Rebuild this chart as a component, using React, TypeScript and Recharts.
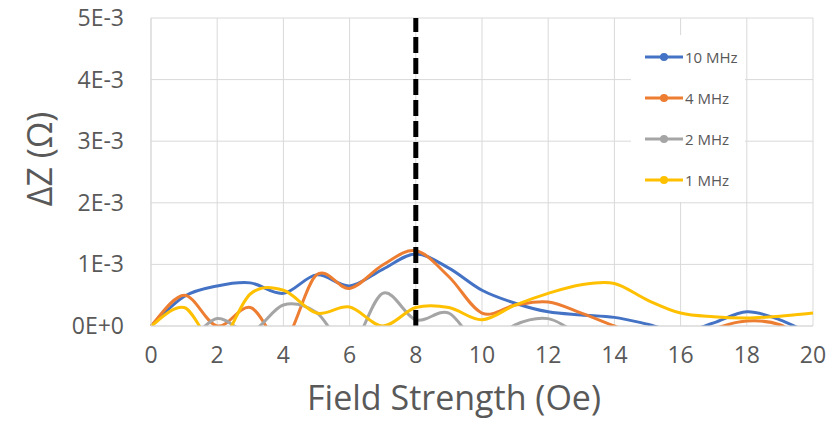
import React from "react";
import {
  LineChart,
  Line,
  XAxis,
  YAxis,
  CartesianGrid,
  ReferenceLine,
  Legend,
  Customized,
} from "recharts";

// field strength (Oe) and ΔZ values in units of 1E-3 Ω
const fieldStrength = [0, 1, 2, 3, 4, 5, 6, 7, 8, 9, 10, 11, 12, 13, 14, 15, 16, 17, 18, 19, 20];
const mhz10 = [0, 0.48, 0.65, 0.7, 0.53, 0.83, 0.65, 0.92, 1.17, 0.94, 0.58, 0.37, 0.23, 0.18, 0.14, 0.03, -0.1, 0.05, 0.23, 0.1, -0.15];
const mhz4 = [0, 0.5, 0.0, 0.3, -0.25, 0.83, 0.61, 0.99, 1.22, 0.8, 0.21, 0.34, 0.39, 0.21, 0.0, -0.2, -0.3, -0.05, 0.08, 0.02, -0.3];
const mhz2 = [0, -0.25, 0.12, -0.1, 0.34, 0.22, -0.35, 0.53, 0.1, 0.21, -0.35, 0.02, 0.12, -0.15, -0.3, -0.3, -0.3, -0.3, -0.3, -0.3, -0.3];
const mhz1 = [0, 0.3, -0.3, 0.52, 0.58, 0.21, 0.31, 0.0, 0.3, 0.3, 0.1, 0.34, 0.53, 0.67, 0.69, 0.42, 0.21, 0.15, 0.13, 0.16, 0.21];

const xTicks = [0, 2, 4, 6, 8, 10, 12, 14, 16, 18, 20];
const yTicks = [0, 1, 2, 3, 4, 5];
const yTickLabels = ["0E+0", "1E-3", "2E-3", "3E-3", "4E-3", "5E-3"];

const series = [
  { key: "mhz10", name: "10 MHz", color: "#4472C4", values: mhz10 },
  { key: "mhz4", name: "4 MHz", color: "#ED7D31", values: mhz4 },
  { key: "mhz2", name: "2 MHz", color: "#A5A5A5", values: mhz2 },
  { key: "mhz1", name: "1 MHz", color: "#FFC000", values: mhz1 },
];

const data = fieldStrength.map((x, i) => {
  const row: Record<string, number> = { x };
  series.forEach((s) => (row[s.key] = s.values[i]));
  return row;
});

const FONT = "'Open Sans', sans-serif";
const TEXT = "#595959";

// Excel-style smoothed line (Catmull-Rom through every point)
const excelCurve = (context: any) => {
  let pts: number[][] = [];
  return {
    areaStart() {},
    areaEnd() {},
    lineStart() {
      pts = [];
    },
    point(x: number, y: number) {
      pts.push([+x, +y]);
    },
    lineEnd() {
      const n = pts.length;
      if (!n) return;
      context.moveTo(pts[0][0], pts[0][1]);
      for (let i = 0; i < n - 1; i++) {
        const p0 = pts[Math.max(i - 1, 0)];
        const p1 = pts[i];
        const p2 = pts[i + 1];
        const p3 = pts[Math.min(i + 2, n - 1)];
        context.bezierCurveTo(
          p1[0] + (p2[0] - p0[0]) / 6,
          p1[1] + (p2[1] - p0[1]) / 6,
          p2[0] - (p3[0] - p1[0]) / 6,
          p2[1] - (p3[1] - p1[1]) / 6,
          p2[0],
          p2[1]
        );
      }
    },
  };
};

const YTick = (props: any) => {
  const { y, payload } = props;
  const idx = yTicks.indexOf(payload.value);
  return (
    <text x={124} y={y} dy="0.35em" textAnchor="end" fontSize={23} fill={TEXT} fontFamily={FONT}>
      {yTickLabels[idx]}
    </text>
  );
};

const XTick = (props: any) => {
  const { x, payload } = props;
  return (
    <text x={x} y={355} dy="0.35em" textAnchor="middle" fontSize={23} fill={TEXT} fontFamily={FONT}>
      {payload.value}
    </text>
  );
};

const AxisTitles = () => (
  <g fontFamily={FONT} fill={TEXT} fontSize={34}>
    <text x={454} y={398} dy="0.35em" textAnchor="middle">
      Field Strength (Oe)
    </text>
    <text x={40} y={159} dy="0.35em" textAnchor="middle" transform="rotate(-90 40 159)">
      ΔZ (Ω)
    </text>
  </g>
);

const LegendBox = () => (
  <div style={{ background: "#fff", width: 114, height: 167, paddingTop: 1, boxSizing: "border-box" }}>
    {series.map((s) => (
      <div key={s.key} style={{ display: "flex", alignItems: "center", height: 41, paddingLeft: 14 }}>
        <svg width={38} height={10} style={{ display: "block" }}>
          <line x1={0} y1={5} x2={38} y2={5} stroke={s.color} strokeWidth={3} />
          <circle cx={19} cy={5} r={4} fill={s.color} />
        </svg>
        <span style={{ fontFamily: FONT, fontSize: 15, color: TEXT, marginLeft: 2 }}>{s.name}</span>
      </div>
    ))}
  </div>
);

export default function App() {
  return (
    <div style={{ position: "absolute", left: 0, top: 0, width: 830, height: 421, background: "#fff" }}>
      <LineChart width={830} height={421} data={data} margin={{ top: 18, right: 17, bottom: 0, left: 0 }}>
        <CartesianGrid stroke="#d9d9d9" strokeWidth={1} />
        <XAxis
          dataKey="x"
          type="number"
          domain={[0, 20]}
          ticks={xTicks}
          height={95}
          tick={<XTick />}
          tickLine={false}
          axisLine={{ stroke: "#d9d9d9" }}
        />
        <YAxis
          type="number"
          domain={[0, 5]}
          ticks={yTicks}
          allowDataOverflow
          width={151}
          tick={<YTick />}
          tickLine={false}
          axisLine={{ stroke: "#d9d9d9" }}
        />
        {series.map((s) => (
          <Line
            key={s.key}
            dataKey={s.key}
            name={s.name}
            type={excelCurve as any}
            stroke={s.color}
            strokeWidth={3}
            dot={false}
            activeDot={false}
            isAnimationActive={false}
          />
        ))}
        <ReferenceLine x={8} stroke="#000" strokeWidth={5} strokeDasharray="16 5" />
        <Legend
          layout="vertical"
          align="center"
          verticalAlign="middle"
          content={() => <LegendBox />}
          wrapperStyle={{ left: 631, top: 35, width: 114, height: 167 }}
        />
        <Customized component={AxisTitles} />
      </LineChart>
    </div>
  );
}
